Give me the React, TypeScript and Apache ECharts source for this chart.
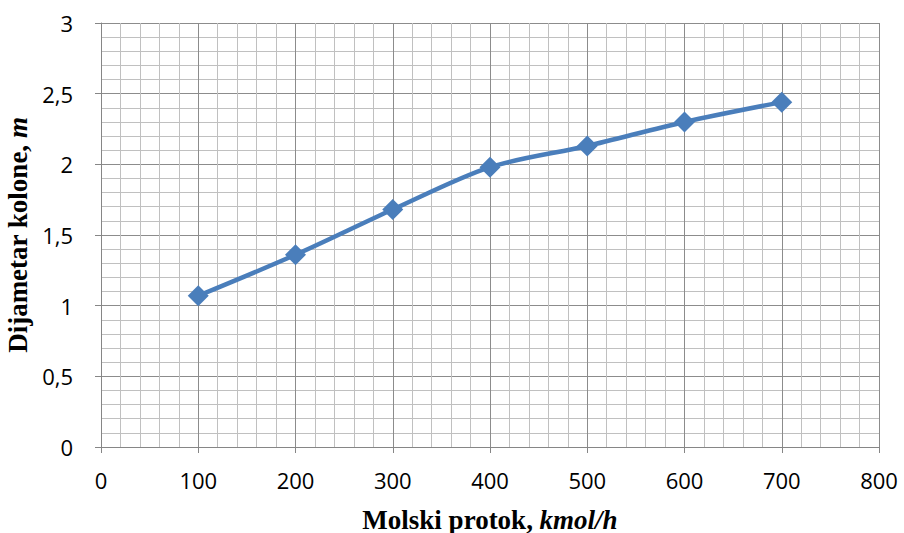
import React, { useEffect, useRef } from "react";
import * as echarts from "echarts";

const flowRates = [100, 200, 300, 400, 500, 600, 700];
const diameters = [1.07, 1.36, 1.68, 1.98, 2.13, 2.3, 2.44];

export default function App() {
  const ref = useRef<HTMLDivElement>(null);
  useEffect(() => {
    const chart = echarts.init(ref.current!, null, { renderer: "svg" });
    const rich = {
      b: { fontFamily: "Liberation Serif", fontWeight: "bold", fontSize: 27, color: "#000" },
      i: { fontFamily: "Liberation Serif", fontWeight: "bold", fontStyle: "italic", fontSize: 27, color: "#000" },
    };
    chart.setOption({
      animation: false,
      backgroundColor: "#ffffff",
      grid: { left: 101, right: 25, top: 23, bottom: 86, outerBoundsMode: "none", containLabel: false },
      xAxis: {
        type: "value",
        min: 0,
        max: 800,
        interval: 100,
        name: "{b|Molski protok, }{i|kmol/h}",
        nameLocation: "middle",
        nameGap: 59,
        nameTextStyle: { rich },
        axisLine: { show: true, lineStyle: { color: "#868686", width: 1 } },
        axisTick: { show: true, inside: false, length: 6, lineStyle: { color: "#868686" } },
        axisLabel: { fontFamily: "Open Sans", fontSize: 22, color: "#000", margin: 22 },
        splitLine: { show: true, lineStyle: { color: "#8c8c8c", width: 1 } },
        minorTick: { show: false, splitNumber: 5 },
        minorSplitLine: { show: true, lineStyle: { color: "#c0c0c0", width: 1 } },
      },
      yAxis: {
        type: "value",
        min: 0,
        max: 3,
        interval: 0.5,
        name: "{b|Dijametar kolone, }{i|m}",
        nameLocation: "middle",
        nameGap: 68,
        nameRotate: 90,
        nameTextStyle: { rich },
        axisLine: { show: true, lineStyle: { color: "#868686", width: 1 } },
        axisTick: { show: true, inside: false, length: 6, lineStyle: { color: "#868686" } },
        axisLabel: {
          fontFamily: "Open Sans",
          fontSize: 22,
          color: "#000",
          margin: 28,
          formatter: (v: number) => String(v).replace(".", ","),
        },
        splitLine: { show: true, lineStyle: { color: "#8c8c8c", width: 1 } },
        minorTick: { show: false, splitNumber: 5 },
        minorSplitLine: { show: true, lineStyle: { color: "#c0c0c0", width: 1 } },
      },
      series: [
        {
          type: "line",
          data: flowRates.map((x, i) => [x, diameters[i]]),
          smooth: 0.3,
          symbol: "diamond",
          symbolSize: 21,
          itemStyle: { color: "#4a7ebb" },
          lineStyle: { color: "#4a7ebb", width: 4.5 },
        },
      ],
    });
    return () => chart.dispose();
  }, []);
  return <div ref={ref} style={{ width: 904, height: 533, position: "absolute", left: 0, top: 0 }} />;
}
